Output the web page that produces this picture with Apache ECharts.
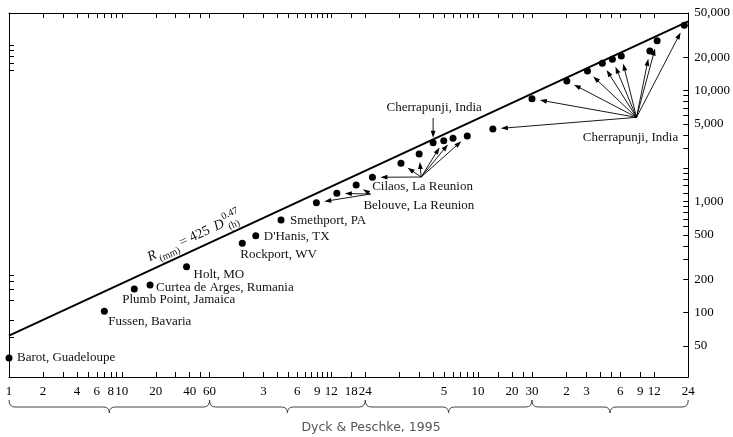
<!DOCTYPE html>
<html>
<head>
<meta charset="utf-8">
<script src="https://cdn.jsdelivr.net/npm/echarts@6/dist/echarts.min.js"></script>
<style>
  html, body { margin: 0; padding: 0; background: #fff; }
  #chart { width: 733px; height: 437px; }
</style>
</head>
<body>
<div id="chart"></div>
<script>
// Durations are kept in minutes; depths in millimetres.
const HOUR = 60, DAY = 1440, MONTH = 43800;
const INCH = 25.4;

// Single-station records
const siteNames = ['Barot, Guadeloupe', 'Fussen, Bavaria', 'Plumb Point, Jamaica',
  'Curtea de Arges, Rumania', 'Holt, MO', 'Rockport, WV', "D'Hanis, TX", 'Smethport, PA'];
const siteDurations = [1, 7, 12.9, 17.8, 37.5, 117, 154, 258];
const siteDepths = [39, 103, 163, 177, 259, 421, 493, 683];

// Belouve, La Reunion
const belouveDurations = [531, 806, 1196];
const belouveDepths = [977, 1188, 1410];

// Cilaos, La Reunion
const cilaosDurations = [1667, 2985, 4328, 7148, 8635, 11550];
const cilaosDepths = [1656, 2213, 2686, 3540, 3718, 3899];

// Cherrapunji, India (multi-day record)
const cherraShortDurations = [5754];
const cherraShortDepths = [3396];

// Cherrapunji, India (long-duration records)
const cherraDurations = [19480, 43290, 88150, 134300, 182000, 223400, 268000, 480000, 557000, 970000];
const cherraDepths = [4508, 8454, 12200, 15020, 17600, 19130, 20500, 22740, 28100, 38700];

// Envelope R(mm) = 425 D(h)^0.47
const FIT_COEF = 425, FIT_EXP = 0.47;
const fitDepth = m => FIT_COEF * Math.pow(m / HOUR, FIT_EXP);

// Axis ticks and labels
const xLabelValues = [1, 2, 4, 6, 8, 10, 20, 40, 60,
  3 * HOUR, 6 * HOUR, 9 * HOUR, 12 * HOUR, 18 * HOUR, 24 * HOUR,
  5 * DAY, 10 * DAY, 20 * DAY, 30 * DAY,
  2 * MONTH, 3 * MONTH, 6 * MONTH, 9 * MONTH, 12 * MONTH, 24 * MONTH];
const xLabelTexts = ['1', '2', '4', '6', '8', '10', '20', '40', '60',
  '3', '6', '9', '12', '18', '24',
  '5', '10', '20', '30',
  '2', '3', '6', '9', '12', '24'];
const xTickMinutes = [1, 2, 3, 4, 5, 6, 7, 8, 9, 10, 20, 30, 40, 50, 60];
const xTickHours = [2, 3, 4, 5, 6, 7, 8, 9, 10, 11, 12, 18, 24];
const xTickDays = [2, 3, 4, 5, 6, 7, 8, 9, 10, 15, 20, 25, 30];
const xTickMonths = [2, 3, 4, 5, 6, 9, 12, 24];
const xTickValues = [].concat(
  xTickMinutes,
  xTickHours.map(h => h * HOUR),
  xTickDays.map(d => d * DAY),
  xTickMonths.map(m => m * MONTH));

// Right scale in millimetres
const yLabelValues = [50, 100, 200, 500, 1000, 5000, 10000, 20000, 50000];
const yTickValues = [50, 100, 200, 300, 400, 500, 600, 700, 800, 900, 1000,
  1200, 1400, 1600, 1800, 2000, 3000, 4000, 5000, 6000, 7000, 8000, 9000,
  10000, 20000, 50000];
// Left edge marks: low group (mm) and high group (inches)
const yLeftTicksMm = [60, 86, 130, 163, 193, 218];
const yLeftTicksInch = [600, 700, 800, 900, 1000];

// Braces grouping the duration units
const braceSpans = [[1, 60], [60, 24 * HOUR], [24 * HOUR, 30 * DAY], [30 * DAY, 24 * MONTH]];

const X_MIN = 1, X_MAX = 24 * MONTH;
const Y_MIN = 26.3, Y_MAX = 50000;

const SERIF = 'Liberation Serif';

function nearestIndex(list, v) {
  let best = 0, bestD = Infinity;
  list.forEach((x, i) => {
    const d = Math.abs(Math.log(x) - Math.log(v));
    if (d < bestD) { bestD = d; best = i; }
  });
  return best;
}
const fmtX = v => xLabelTexts[nearestIndex(xLabelValues, v)];
const fmtY = v => yLabelValues[nearestIndex(yLabelValues, v)].toLocaleString('en-US');

// Label offsets (px from the dot centre) for the single-station records
const siteLabelOffsets = [[8, 0], [4, 10], [-12, 11], [6, 2], [7, 8], [-2, 11], [8, 1], [9, 1]];

const zip = (xs, ys) => xs.map((x, i) => [x, ys[i]]);

const axisLineStyle = { color: '#000', width: 1 };
const tickStyle = { color: '#000', width: 1 };
const dotStyle = { color: '#000', opacity: 1 };

const chart = echarts.init(document.getElementById('chart'));

const option = {
  animation: false,
  backgroundColor: '#fff',
  grid: { left: 9, right: 42, top: 13, bottom: 60 },
  xAxis: [
    {
      type: 'log', min: X_MIN, max: X_MAX, position: 'bottom',
      axisLine: { show: true, lineStyle: axisLineStyle },
      axisTick: { show: true, inside: true, length: 5, customValues: xTickValues, lineStyle: tickStyle },
      axisLabel: {
        show: true, customValues: xLabelValues, formatter: fmtX,
        color: '#000', fontFamily: SERIF, fontSize: 13, margin: 8
      },
      splitLine: { show: false }, minorTick: { show: false }
    },
    {
      type: 'log', min: X_MIN, max: X_MAX, position: 'top',
      axisLine: { show: true, lineStyle: axisLineStyle },
      axisTick: { show: true, inside: true, length: 5, customValues: xTickValues, lineStyle: tickStyle },
      axisLabel: { show: false },
      splitLine: { show: false }
    }
  ],
  yAxis: [
    {
      type: 'log', min: Y_MIN, max: Y_MAX, position: 'right',
      axisLine: { show: true, lineStyle: axisLineStyle },
      axisTick: { show: true, inside: true, length: 5, customValues: yTickValues, lineStyle: tickStyle },
      axisLabel: {
        show: true, customValues: yLabelValues, formatter: fmtY,
        color: '#000', fontFamily: SERIF, fontSize: 13, margin: 6
      },
      splitLine: { show: false }
    },
    {
      type: 'log', min: Y_MIN, max: Y_MAX, position: 'left',
      axisLine: { show: true, lineStyle: axisLineStyle },
      axisTick: { show: true, inside: true, length: 5,
        customValues: yLeftTicksMm.concat(yLeftTicksInch.map(v => v * INCH)), lineStyle: tickStyle },
      axisLabel: { show: false },
      splitLine: { show: false }
    }
  ],
  series: [
    {
      name: 'envelope', type: 'line', xAxisIndex: 0, yAxisIndex: 0,
      data: [[X_MIN, fitDepth(X_MIN)], [X_MAX, fitDepth(X_MAX)]],
      symbol: 'none', lineStyle: { color: '#000', width: 2 }, silent: true, z: 3
    },
    {
      name: 'sites', type: 'scatter', xAxisIndex: 0, yAxisIndex: 0,
      symbolSize: 7, itemStyle: dotStyle, z: 4,
      data: zip(siteDurations, siteDepths).map((p, i) => ({
        value: p,
        label: {
          show: true, position: 'inside', align: 'left', verticalAlign: 'middle',
          offset: siteLabelOffsets[i], formatter: siteNames[i],
          color: '#111', fontFamily: SERIF, fontSize: 13
        }
      }))
    },
    {
      name: 'Belouve', type: 'scatter', symbolSize: 7, itemStyle: dotStyle, z: 4,
      data: zip(belouveDurations, belouveDepths)
    },
    {
      name: 'Cilaos', type: 'scatter', symbolSize: 7, itemStyle: dotStyle, z: 4,
      data: zip(cilaosDurations, cilaosDepths)
    },
    {
      name: 'Cherrapunji', type: 'scatter', symbolSize: 7, itemStyle: dotStyle, z: 4,
      data: zip(cherraShortDurations, cherraShortDepths).concat(zip(cherraDurations, cherraDepths))
    }
  ]
};

chart.setOption(option);

// ---- annotations: arrows, group captions, equation, braces ----
const toPx = (d, r) => chart.convertToPixel({ xAxisIndex: 0, yAxisIndex: 0 }, [d, r]);

function arrow(from, to, shorten) {
  const dx = to[0] - from[0], dy = to[1] - from[1];
  const len = Math.hypot(dx, dy);
  const ux = dx / len, uy = dy / len;
  const tip = [to[0] - ux * shorten, to[1] - uy * shorten];
  const headL = 7, headW = 2.4;
  const base = [tip[0] - ux * headL, tip[1] - uy * headL];
  return [
    { type: 'line', silent: true, shape: { x1: from[0], y1: from[1], x2: base[0] + ux, y2: base[1] + uy },
      style: { stroke: '#000', lineWidth: 0.9 } },
    { type: 'polygon', silent: true, shape: { points: [tip,
        [base[0] - uy * headW, base[1] + ux * headW],
        [base[0] + uy * headW, base[1] - ux * headW]] },
      style: { fill: '#000' } }
  ];
}

function caption(text, p, dx, dy, align) {
  return { type: 'text', silent: true, x: p[0] + dx, y: p[1] + dy,
    style: { text, fill: '#111', font: '13px "' + SERIF + '"', align: align || 'left', verticalAlign: 'middle' } };
}

// Arrow tails (duration in minutes, depth in mm)
const cherraHub = [365600, 5740];
const cilaosHub = [4508, 1665];
const belouveHub = [1600, 1170];
const cherraTopTail = [5754, 5660];

const g = [];
const cherraHubPx = toPx(cherraHub[0], cherraHub[1]);
cherraDurations.forEach((d, i) => g.push(...arrow(cherraHubPx, toPx(d, cherraDepths[i]), 8)));
g.push(caption('Cherrapunji, India', cherraHubPx, -6, 20, 'center'));

const cilaosHubPx = toPx(cilaosHub[0], cilaosHub[1]);
cilaosDurations.forEach((d, i) => g.push(...arrow(cilaosHubPx, toPx(d, cilaosDepths[i]), 8)));
g.push(caption('Cilaos, La Reunion', cilaosHubPx, -49, 10));

const belouveHubPx = toPx(belouveHub[0], belouveHub[1]);
belouveDurations.forEach((d, i) => g.push(...arrow(belouveHubPx, toPx(d, belouveDepths[i]), 8)));
g.push(caption('Belouve, La Reunion', belouveHubPx, -7, 12));

const topTailPx = toPx(cherraTopTail[0], cherraTopTail[1]);
g.push(...arrow(topTailPx, toPx(cherraShortDurations[0], cherraShortDepths[0]), 5));
g.push(caption('Cherrapunji, India', topTailPx, 1, -10, 'center'));

// Equation written along the envelope line
const lineA = toPx(X_MIN, fitDepth(X_MIN));
const lineB = toPx(X_MAX, fitDepth(X_MAX));
const angle = Math.atan2(lineA[1] - lineB[1], lineB[0] - lineA[0]);
const eqAt = toPx(19, fitDepth(19));
const eqFont = (size, italic) => (italic ? 'italic ' : '') + size + 'px "' + SERIF + '"';
const eqText = (text, x, y, size, italic) => ({ type: 'text', silent: true, x, y,
  style: { text, fill: '#111', font: eqFont(size, italic), align: 'left', verticalAlign: 'bottom' } });
g.push({
  type: 'group', x: eqAt[0], y: eqAt[1], rotation: angle, silent: true,
  children: [
    eqText('R', 0, -5, 14, true),
    eqText('(mm)', 10, -1, 10, false),
    eqText('= 425', 35, -5, 14, false),
    eqText('D', 73, -5, 14, true),
    eqText('0.47', 84, -13, 10, false),
    eqText('(h)', 86, -1, 10, false)
  ]
});

// Braces under the duration axis
const BR_TOP = 400, BR_MID = 407, BR_TIP = 413, BR_R = 6;
const braceStyle = { stroke: '#444', lineWidth: 1, fill: null };
const curve = (x1, y1, cx, cy, x2, y2) => ({ type: 'bezierCurve', silent: true,
  shape: { x1, y1, cpx1: cx, cpy1: cy, x2, y2 }, style: braceStyle });
const seg = (x1, y1, x2, y2) => ({ type: 'line', silent: true, shape: { x1, y1, x2, y2 }, style: braceStyle });
braceSpans.forEach(([a, b]) => {
  const xa = chart.convertToPixel({ xAxisIndex: 0 }, a);
  const xb = chart.convertToPixel({ xAxisIndex: 0 }, b);
  const xm = (xa + xb) / 2;
  g.push(curve(xa, BR_TOP, xa, BR_MID, xa + BR_R, BR_MID));
  g.push(seg(xa + BR_R, BR_MID, xm - BR_R, BR_MID));
  g.push(curve(xm - BR_R, BR_MID, xm, BR_MID, xm, BR_TIP));
  g.push(curve(xm, BR_TIP, xm, BR_MID, xm + BR_R, BR_MID));
  g.push(seg(xm + BR_R, BR_MID, xb - BR_R, BR_MID));
  g.push(curve(xb - BR_R, BR_MID, xb, BR_MID, xb, BR_TOP));
});

g.push({ type: 'text', silent: true, x: 371, y: 428,
  style: { text: 'Dyck & Peschke, 1995', fill: '#555', font: '12.5px "DejaVu Sans"', align: 'center', verticalAlign: 'middle' } });

chart.setOption({ graphic: { elements: g } });
</script>
</body>
</html>
